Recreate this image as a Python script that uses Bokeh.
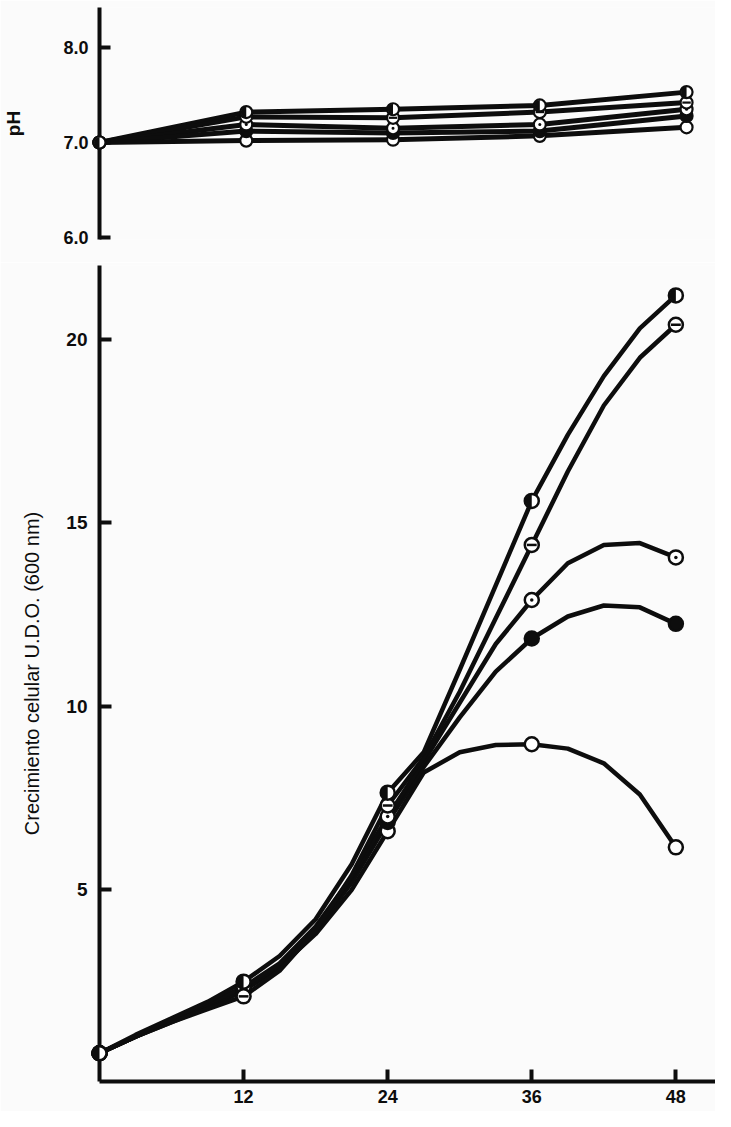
import numpy as np
from bokeh.plotting import figure
from bokeh.layouts import column
from bokeh.models import Range1d, FixedTicker, PrintfTickFormatter
from bokeh.embed import file_html
from bokeh.resources import INLINE

# ---------------- data ----------------
hours = [0, 12, 24, 36, 48]

# pH (top panel)
ph_half = [7.00, 7.32, 7.35, 7.39, 7.53]
ph_minus = [7.00, 7.27, 7.26, 7.32, 7.42]
ph_dot = [7.00, 7.19, 7.15, 7.19, 7.35]
ph_filled = [7.00, 7.12, 7.10, 7.12, 7.28]
ph_open = [7.00, 7.02, 7.03, 7.07, 7.16]

# growth, measured points (bottom panel)
od_half = [0.55, 2.50, 7.65, 15.6, 21.2]
od_minus = [0.55, 2.10, 7.30, 14.4, 20.4]
od_dot = [0.55, 2.35, 7.00, 12.9, 14.06]
od_filled = [0.55, 2.30, 6.85, 11.85, 12.25]
od_open = [0.55, 2.25, 6.60, 8.97, 6.16]

# growth, drawn curves read every 3 h
curve_hours = [0, 3, 6, 9, 12, 15, 18, 21, 24, 27, 30, 33, 36, 39, 42, 45, 48]
curve_half = [0.55, 1.05, 1.5, 1.95, 2.5, 3.2, 4.2, 5.7, 7.65, 8.75, 11.0, 13.3, 15.6, 17.4, 19.0, 20.3, 21.2]
curve_minus = [0.55, 1.0, 1.4, 1.75, 2.1, 2.8, 3.9, 5.4, 7.3, 8.6, 10.4, 12.4, 14.4, 16.4, 18.2, 19.5, 20.4]
curve_dot = [0.55, 1.0, 1.45, 1.9, 2.35, 3.0, 4.0, 5.35, 7.0, 8.5, 10.1, 11.7, 12.9, 13.9, 14.4, 14.45, 14.06]
curve_filled = [0.55, 1.0, 1.45, 1.85, 2.3, 2.95, 3.9, 5.2, 6.85, 8.35, 9.7, 10.95, 11.85, 12.45, 12.75, 12.7, 12.25]
curve_open = [0.55, 1.0, 1.4, 1.8, 2.25, 2.9, 3.8, 5.0, 6.6, 8.2, 8.75, 8.95, 8.97, 8.85, 8.45, 7.6, 6.16]

ph_ticks = [6.0, 7.0, 8.0]
od_ticks = [5, 10, 15, 20]
hour_ticks = [12, 24, 36, 48]

ph_label = "pH"
od_label = "Crecimiento celular U.D.O. (600 nm)"

# ---------------- style ----------------
FONT = "Liberation Sans"
INK = "#0d0d0d"
PAPER = "#fbfbfb"
W = 715


def base_style(p):
    p.background_fill_color = PAPER
    p.border_fill_color = PAPER
    p.outline_line_color = None
    p.grid.visible = False


def style_axis(ax, tick_len, label_size, standoff):
    ax.axis_line_width = 4
    ax.axis_line_color = INK
    ax.major_tick_line_width = 4
    ax.major_tick_line_color = INK
    ax.major_tick_in = tick_len
    ax.major_tick_out = 0
    ax.minor_tick_line_color = None
    ax.major_label_text_font = FONT
    ax.major_label_text_font_size = label_size
    ax.major_label_text_font_style = "bold"
    ax.major_label_text_color = INK
    ax.major_label_standoff = standoff


def add_markers(p, x, half, minus, dot, filled, openc, size, lw):
    kw = dict(line_color=INK, line_width=lw, level="overlay")
    p.scatter(x, openc, marker="circle", size=size, fill_color="white", **kw)
    p.scatter(x, filled, marker="circle", size=size, fill_color=INK, **kw)
    p.scatter(x, dot, marker="circle_dot", size=size, fill_color="white", **kw)
    p.scatter(x, minus, marker="circle", size=size, fill_color="white", **kw)
    p.scatter(x, minus, marker="dash", size=size * 0.7, line_color=INK,
              line_width=lw, level="overlay")
    p.scatter(x, half, marker="circle", size=size, fill_color="white", **kw)
    p.wedge(x, half, radius=size / 2.0 - 0.5, radius_units="screen",
            start_angle=np.pi / 2, end_angle=3 * np.pi / 2,
            fill_color=INK, line_color=None, level="overlay")


# ---------------- top panel: pH ----------------
top_left = 97
top_px_per_h = 12.27
top = figure(width=W, height=262,
             x_range=Range1d(0, (W - top_left) / top_px_per_h),
             y_range=Range1d(5.98, 8.42),
             min_border_left=top_left, min_border_right=0,
             min_border_top=7, min_border_bottom=23,
             output_backend="svg", toolbar_location=None)
base_style(top)
top.xaxis.visible = False
ya = top.yaxis[0]
style_axis(ya, 11, "18px", 11)
ya.ticker = FixedTicker(ticks=ph_ticks)
ya.formatter = PrintfTickFormatter(format="%.1f")
ya.axis_label = ph_label
ya.axis_label_text_font = FONT
ya.axis_label_text_font_size = "19px"
ya.axis_label_text_font_style = "bold"
ya.axis_label_text_color = INK
ya.axis_label_standoff = 36

for s in (ph_half, ph_minus, ph_dot, ph_filled, ph_open):
    top.line(hours, s, line_color=INK, line_width=5, line_join="round")
add_markers(top, hours, ph_half, ph_minus, ph_dot, ph_filled, ph_open, 12, 2.2)

# ---------------- bottom panel: growth ----------------
bot_left = 84
bot_px_per_h = 12.3
bot_px_per_unit = 36.7
bot_h = 849
bot_top_border = 3
bot_bottom_border = 30
frame_h = bot_h - bot_top_border - bot_bottom_border
y0 = -0.22
bot = figure(width=W, height=bot_h,
             x_range=Range1d(0, (W - bot_left) / bot_px_per_h),
             y_range=Range1d(y0, y0 + frame_h / bot_px_per_unit),
             min_border_left=bot_left, min_border_right=0,
             min_border_top=bot_top_border, min_border_bottom=bot_bottom_border,
             output_backend="svg", toolbar_location=None)
base_style(bot)
xa = bot.xaxis[0]
style_axis(xa, 12, "18px", 8)
xa.ticker = FixedTicker(ticks=hour_ticks)
ba = bot.yaxis[0]
style_axis(ba, 12, "19px", 12)
ba.ticker = FixedTicker(ticks=od_ticks)
ba.axis_label = od_label
ba.axis_label_text_font = FONT
ba.axis_label_text_font_size = "20px"
ba.axis_label_text_font_style = "normal"
ba.axis_label_text_color = INK
ba.axis_label_standoff = 20

for c in (curve_open, curve_filled, curve_dot, curve_minus, curve_half):
    bot.line(curve_hours, c, line_color=INK, line_width=4.5, line_join="round")
add_markers(bot, hours, od_half, od_minus, od_dot, od_filled, od_open, 14, 2.5)

layout = column(top, bot, spacing=0)
open("out.html", "w").write(file_html(layout, INLINE))
